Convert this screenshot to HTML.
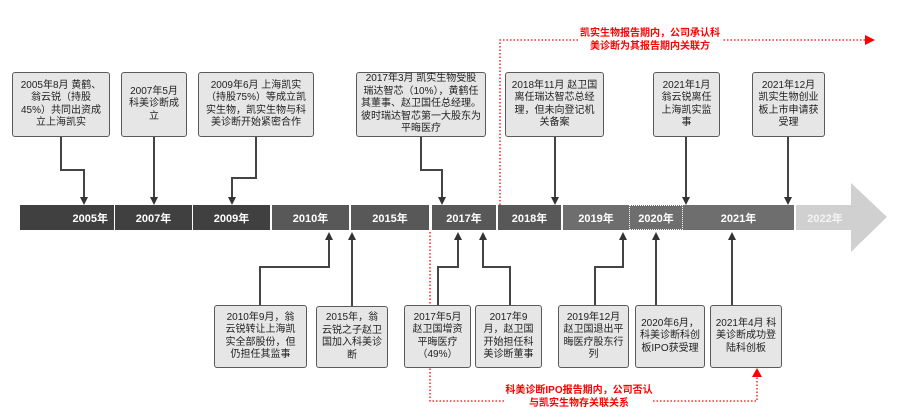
<!DOCTYPE html>
<html><head><meta charset="utf-8"><style>
body{margin:0;width:900px;height:419px;background:#fff;position:relative;overflow:hidden;font-family:"Liberation Sans","Noto Sans CJK SC",sans-serif}
.b{position:absolute;background:#e6e6e6;border:1.5px solid #5a5a5a;border-radius:3px;box-sizing:border-box;display:flex;align-items:center;justify-content:center;text-align:center;font-size:10px;line-height:12.5px;color:#222;padding:0 4px}
.s{position:absolute;top:205px;height:25px;color:#fff;font-weight:bold;font-size:11px;display:flex;align-items:center;justify-content:center}
.r{position:absolute;color:#f00;font-size:10px;font-weight:bold;text-align:center;line-height:13px;background:#fff}
</style></head><body>
<svg width="900" height="419" style="position:absolute;left:0;top:0">
<polygon points="796,205 851,205 851,183 887,217 851,252 851,230 796,230" fill="#d0d0d0"/>
<g stroke="#444" stroke-width="2" fill="none">
<polyline points="61,137 61,170 84,170 84,198"/>
<polyline points="154,137 154,198"/>
<polyline points="256,137 256,178 232,178 232,198"/>
<polyline points="421,137 421,170 442,170 442,198"/>
<polyline points="555,137 555,198"/>
<polyline points="686,137 686,198"/>
<polyline points="788,137 788,198"/>
<polyline points="260,306 260,267 329,267 329,238"/>
<polyline points="352,306 352,238"/>
<polyline points="438,306 438,267 458,267 458,238"/>
<polyline points="510,306 510,267 483,267 483,238"/>
<polyline points="595,306 595,267 623,267 623,238"/>
<polyline points="656,306 656,238"/>
<polyline points="732,306 732,238"/>
</g>
<g fill="#333">
<path d="M80,197h8l-4,8z"/><path d="M150,197h8l-4,8z"/><path d="M228,197h8l-4,8z"/><path d="M438,197h8l-4,8z"/><path d="M551,197h8l-4,8z"/><path d="M682,197h8l-4,8z"/><path d="M784,197h8l-4,8z"/>
<path d="M325,240h8l-4,-8z"/><path d="M348,240h8l-4,-8z"/><path d="M454,240h8l-4,-8z"/><path d="M479,240h8l-4,-8z"/><path d="M619,240h8l-4,-8z"/><path d="M652,240h8l-4,-8z"/><path d="M728,240h8l-4,-8z"/>
</g>
<g stroke="#f00" stroke-width="1.3" stroke-dasharray="1.5,2" fill="none">
<polyline points="500,205 500,40 866,40"/>
<polyline points="430,232 430,401 757,401 757,376"/>
</g>
<path d="M865,35L875,40L865,45z" fill="#f00"/>
<path d="M752,377h10l-5,-9z" fill="#f00"/>
</svg>
<div class="s" style="left:20px;width:94px;background:#404040;justify-content:flex-end;padding-right:6px;box-sizing:border-box">2005年</div>
<div class="s" style="left:115px;width:77px;background:#404040">2007年</div>
<div class="s" style="left:193px;width:77px;background:#404040">2009年</div>
<div class="s" style="left:272px;width:77px;background:#585858">2010年</div>
<div class="s" style="left:351px;width:78px;background:#585858">2015年</div>
<div class="s" style="left:432px;width:64px;background:#585858">2017年</div>
<div class="s" style="left:498px;width:63px;background:#585858">2018年</div>
<div class="s" style="left:563px;width:66px;background:#6e6e6e">2019年</div>
<div class="s" style="left:629px;width:54px;background:#6e6e6e;border:1.5px dotted #fff;box-sizing:border-box">2020年</div>
<div class="s" style="left:683px;width:111px;background:#6e6e6e">2021年</div>
<div class="s" style="left:796px;width:58px;color:#f4f4f4">2022年</div>

<div class="b" style="left:12px;top:72px;width:98px;height:65px;padding:0 7px">2005年8月 黄鹤、翁云锐（持股45%）共同出资成立上海凯实</div>
<div class="b" style="left:121px;top:72px;width:66px;height:65px">2007年5月 科美诊断成立</div>
<div class="b" style="left:198px;top:72px;width:116px;height:65px">2009年6月 上海凯实（持股75%）等成立凯实生物，凯实生物与科美诊断开始紧密合作</div>
<div class="b" style="left:356px;top:72px;width:130px;height:65px">2017年3月 凯实生物受股瑞达智芯（10%），黄鹤任其董事、赵卫国任总经理。彼时瑞达智芯第一大股东为平晦医疗</div>
<div class="b" style="left:505px;top:72px;width:99px;height:65px">2018年11月 赵卫国离任瑞达智芯总经理，但未向登记机关备案</div>
<div class="b" style="left:653px;top:72px;width:67px;height:65px">2021年1月 翁云锐离任上海凯实监事</div>
<div class="b" style="left:752px;top:72px;width:73px;height:65px">2021年12月 凯实生物创业板上市申请获受理</div>

<div class="b" style="left:214px;top:305px;width:93px;height:63px;padding:0 7px">2010年9月，翁云锐转让上海凯实全部股份，但仍担任其监事</div>
<div class="b" style="left:316px;top:306px;width:72px;height:62px">2015年，翁云锐之子赵卫国加入科美诊断</div>
<div class="b" style="left:404px;top:305px;width:67px;height:63px">2017年5月 赵卫国增资平晦医疗（49%）</div>
<div class="b" style="left:475px;top:305px;width:67px;height:63px">2017年9月，赵卫国开始担任科美诊断董事</div>
<div class="b" style="left:558px;top:305px;width:71px;height:63px">2019年12月 赵卫国退出平晦医疗股东行列</div>
<div class="b" style="left:635px;top:305px;width:70px;height:63px">2020年6月，科美诊断科创板IPO获受理</div>
<div class="b" style="left:710px;top:305px;width:72px;height:63px">2021年4月 科美诊断成功登陆科创板</div>

<div class="r" style="left:578px;top:27px;width:144px">凯实生物报告期内，公司承认科美诊断为其报告期内关联方</div>
<div class="r" style="left:505px;top:384px;width:148px">科美诊断IPO报告期内，公司否认与凯实生物存关联关系</div>
</body></html>
